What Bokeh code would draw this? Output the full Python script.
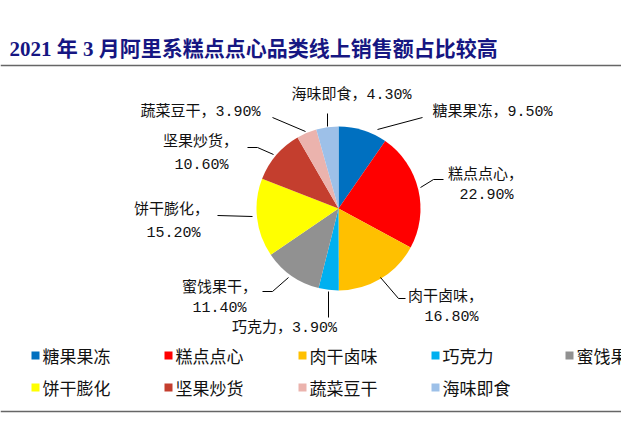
from bokeh.plotting import figure
from bokeh.models import Range1d, ColumnDataSource
from bokeh.core.properties import value
from bokeh.embed import file_html
from bokeh.resources import INLINE
import numpy as np

title = "2021 年 3 月阿里系糕点点心品类线上销售额占比较高"
categories = ["糖果果冻", "糕点点心", "肉干卤味", "巧克力", "蜜饯果干",
              "饼干膨化", "坚果炒货", "蔬菜豆干", "海味即食"]
shares = [9.5, 22.9, 16.8, 3.9, 11.4, 15.2, 10.6, 3.9, 4.3]
colors = ["#0070C0", "#FF0000", "#FFC000", "#00B0F0", "#919191",
          "#FFFF00", "#C43E2E", "#EBB3AD", "#9DC0E8"]

W, H = 621, 417

# picture coords (from top-left of the image) -> plot coords
def cx(px):
    return px

def cy(py):
    return H - py

p = figure(width=W, height=H, x_range=Range1d(0, W), y_range=Range1d(0, H),
           output_backend="svg", toolbar_location=None,
           x_axis_type=None, y_axis_type=None, min_border=0)
p.outline_line_color = None
p.background_fill_color = "white"

LABEL_FONT = value("'Liberation Mono', 'Noto Sans CJK SC'")
CJK_FONT = value("'Noto Sans CJK SC'")

# title and rules
p.text(x=[cx(9)], y=[cy(48)], text=[title], text_font=value("'Liberation Serif', 'Noto Sans CJK SC'"),
       text_font_size="21px", text_font_style="bold", text_color="#161682",
       text_baseline="middle", text_align="left")
p.line(x=[0, W], y=[cy(65), cy(65)], line_color="#666666", line_width=1.5)
p.line(x=[0, W], y=[cy(411), cy(411)], line_color="#666666", line_width=1.5)

# pie
vals = np.array(shares)
frac = vals / vals.sum()
c1 = np.cumsum(frac)
c0 = c1 - frac
src = ColumnDataSource(dict(
    start=np.pi / 2 - 2 * np.pi * c0,
    end=np.pi / 2 - 2 * np.pi * c1,
    color=colors,
))
p.wedge(x=cx(338), y=cy(208), radius=82, start_angle="start", end_angle="end",
        direction="clock", fill_color="color", line_color=None, source=src)

# data labels: (line1 center, line2 center or None)
label_pos = [
    ((492, 112), None),
    ((485, 175), (486, 195)),
    ((445, 297), (451, 317)),
    ((284, 328), None),
    ((219, 288), (219, 308)),
    ((171, 210), (173, 233)),
    ((200, 142), (201, 165)),
    ((200, 112), None),
    ((351, 95), None),
]
leaders = [
    [(377, 129), (422, 117)],
    [(420, 187), (433, 179), (443, 179)],
    [(380, 277), (398, 298), (405, 298)],
    [(328, 291), (328, 317)],
    [(288, 277), (272, 291), (262, 291)],
    [(252, 216), (217, 215)],
    [(273, 154), (257, 147), (247, 147)],
    [(305, 131), (272, 117)],
    [(327, 126), (327, 113)],
]

lx, ly, lt = [], [], []
for name, v, (a, b) in zip(categories, shares, label_pos):
    pct = "%.2f%%" % v
    if b is None:
        lx.append(cx(a[0])); ly.append(cy(a[1])); lt.append(name + "，" + pct)
    else:
        lx.append(cx(a[0])); ly.append(cy(a[1])); lt.append(name + "，")
        lx.append(cx(b[0])); ly.append(cy(b[1])); lt.append(pct)
p.text(x=lx, y=ly, text=lt, text_font=LABEL_FONT, text_font_size="15px",
       text_color="#111111", text_align="center", text_baseline="middle")

p.multi_line(xs=[[cx(q[0]) for q in seg] for seg in leaders],
             ys=[[cy(q[1]) for q in seg] for seg in leaders],
             line_color="black", line_width=1)

# legend
col_x = [35, 168, 302, 435, 569]
row_y = [355, 387]
mx = [cx(col_x[i % 5]) for i in range(len(categories))]
my = [cy(row_y[i // 5]) for i in range(len(categories))]
p.rect(x=mx, y=my, width=8, height=8, fill_color=colors, line_color=None)
p.text(x=[m + 7 for m in mx], y=my, text=categories, text_font=CJK_FONT,
       text_font_size="17px", text_color="#111111", text_align="left",
       text_baseline="middle")

open("out.html", "w").write(file_html(p, INLINE))
